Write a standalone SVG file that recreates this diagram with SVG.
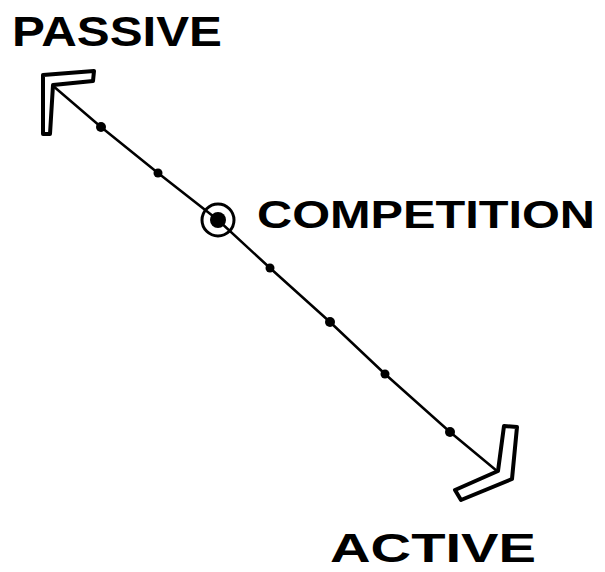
<svg xmlns="http://www.w3.org/2000/svg" width="605" height="572" viewBox="0 0 605 572">
<style>
.lbl{font-family:"Liberation Sans","DejaVu Sans",sans-serif;font-weight:bold;fill:#000}
.ah{fill:#fff;stroke:#000;stroke-width:4;stroke-linejoin:round}
.dot{fill:#000}
</style>
<rect width="605" height="572" fill="#fff"/>
<g id="connectors">
<path d="M52,85 L101,127 L158,173 L218,220 L270,268 L330,322 L385,374 L450,432 L497,471" fill="none" stroke="#000" stroke-width="2.5"/>
</g>
<g id="passive-arrow">
<path class="ah" d="M43,75 L94,71 L93,81 L53,85 L50,134 L43,134 Z"/>
</g>
<g id="active-arrow">
<path class="ah" d="M498,471 L504,426 L517,427 L512,479 L461,500 L455,490 Z"/>
</g>
<g id="ticks">
<circle class="dot" cx="101" cy="127" r="5"/>
<circle class="dot" cx="158" cy="173" r="4.5"/>
<circle class="dot" cx="270" cy="268" r="4.5"/>
<circle class="dot" cx="330" cy="322" r="5"/>
<circle class="dot" cx="385" cy="374" r="4.5"/>
<circle class="dot" cx="450" cy="432" r="5"/>
</g>
<g id="competition">
<circle cx="218" cy="220" r="16" fill="none" stroke="#000" stroke-width="3"/>
<circle cx="218" cy="220" r="8" fill="#000"/>
<text class="lbl" x="257" y="228" font-size="38" textLength="338" lengthAdjust="spacingAndGlyphs">COMPETITION</text>
</g>
<g id="passive">
<text class="lbl" x="12" y="46" font-size="42" textLength="210" lengthAdjust="spacingAndGlyphs">PASSIVE</text>
</g>
<g id="active">
<text class="lbl" x="330" y="562" font-size="40" textLength="206" lengthAdjust="spacingAndGlyphs">ACTIVE</text>
</g>
</svg>
